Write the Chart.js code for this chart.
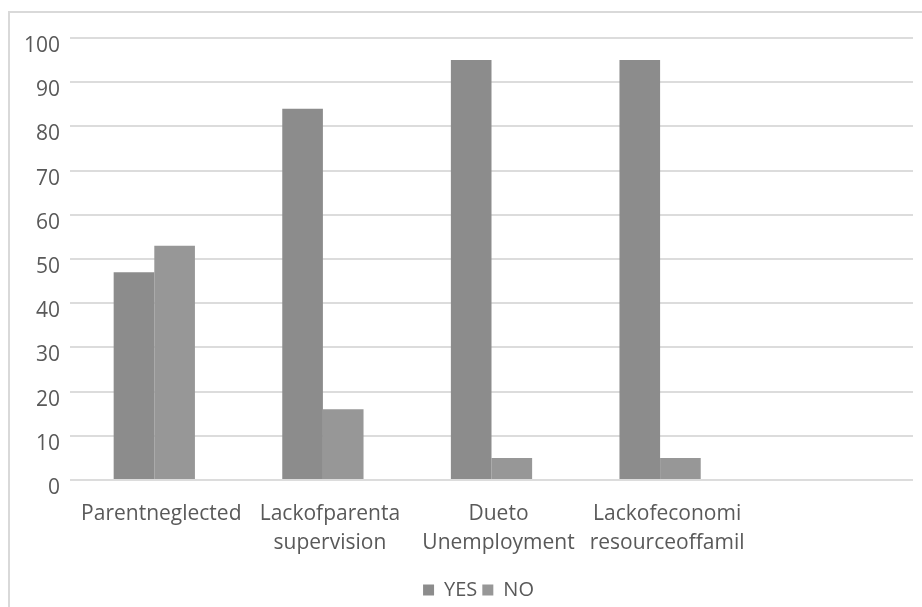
<!DOCTYPE html>
<html>
<head>
<meta charset="utf-8">
<script src="https://cdn.jsdelivr.net/npm/chart.js@4.4.1/dist/chart.umd.min.js"></script>
<style>
  html, body { margin: 0; padding: 0; background: #ffffff; }
  #wrap { width: 922px; height: 607px; position: relative; }
</style>
</head>
<body>
<div id="wrap"><canvas id="chart" width="922" height="607"></canvas></div>
<script>
// Survey responses per reason (percent)
const categories = [
  ["Parentneglected"],
  ["Lackofparenta", "supervision"],
  ["Dueto", "Unemployment"],
  ["Lackofeconomi", "resourceoffamil"],
  ""
];
const yesValues = [47, 84, 95, 95, null];
const noValues  = [53, 16, 5, 5, null];
const yTicks = [0, 10, 20, 30, 40, 50, 60, 70, 80, 90, 100];

const TEXT = '#595959';
const GRID = '#dcdcdc';
const FONT = "'Open Sans', 'Noto Sans', sans-serif";

// Light frame along the top and left edge of the chart object
const frame = {
  id: 'frame',
  beforeDraw(chart) {
    const c = chart.ctx;
    c.save();
    c.strokeStyle = '#d9d9d9';
    c.lineWidth = 2;
    c.beginPath();
    c.moveTo(9, 607);
    c.lineTo(9, 12);
    c.lineTo(922, 12);
    c.stroke();
    c.restore();
  }
};

// Centre the legend under the plot area and nudge it a little lower
const legendShift = {
  id: 'legendShift',
  afterLayout(chart) {
    const lg = chart.legend;
    if (!lg) return;
    const dx = 17, dy = 4;
    lg.left += dx; lg.right += dx;
    lg.top += dy; lg.bottom += dy;
  }
};

new Chart(document.getElementById('chart'), {
  type: 'bar',
  data: {
    labels: categories,
    datasets: [
      { label: 'YES', data: yesValues, backgroundColor: '#8c8c8c', borderWidth: 0 },
      { label: 'NO',  data: noValues,  backgroundColor: '#979797', borderWidth: 0 }
    ]
  },
  options: {
    responsive: false,
    animation: false,
    devicePixelRatio: 1,
    layout: { padding: { top: 38, left: 10, right: 9, bottom: 1 } },
    datasets: { bar: { categoryPercentage: 0.482, barPercentage: 1.0 } },
    scales: {
      x: {
        grid: { display: false, drawTicks: false },
        border: { display: false },
        ticks: {
          color: TEXT,
          font: { family: FONT, size: 21, lineHeight: 1.35 },
          padding: 20,
          labelOffset: 7,
          autoSkip: false,
          maxRotation: 0,
          minRotation: 0
        },
        afterFit(axis) { axis.height = 91; }
      },
      y: {
        min: 0,
        max: 100,
        afterBuildTicks(axis) { axis.ticks = yTicks.map(v => ({ value: v })); },
        grid: { color: GRID, lineWidth: 2, drawTicks: false },
        border: { display: false },
        ticks: {
          color: TEXT,
          font: { family: FONT, size: 21 },
          padding: 10,
          labelOffset: 8
        },
        afterFit(axis) { axis.width = 60; }
      }
    },
    plugins: {
      legend: {
        position: 'bottom',
        labels: {
          color: TEXT,
          font: { family: FONT, size: 20, lineHeight: 1.0 },
          boxWidth: 11,
          boxHeight: 11,
          padding: 5
        }
      },
      tooltip: { enabled: false }
    }
  },
  plugins: [frame, legendShift]
});
</script>
</body>
</html>
